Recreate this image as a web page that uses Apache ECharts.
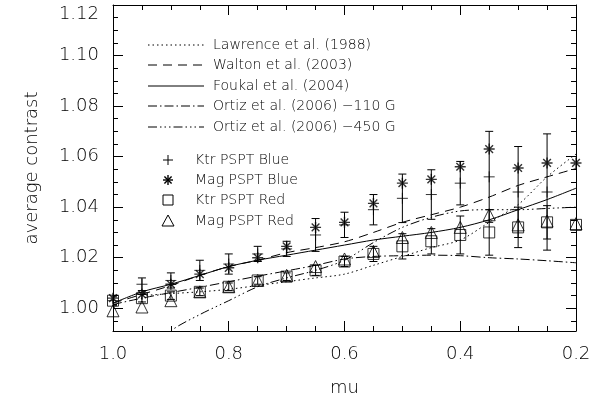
<!DOCTYPE html>
<html><head><meta charset="utf-8">
<script src="https://cdn.jsdelivr.net/npm/echarts@6/dist/echarts.min.js"></script>
<style>html,body{margin:0;padding:0;background:#fff}#c{width:616px;height:403px}</style>
</head><body><div id="c"></div>
<script>
// ---- data ----
const mu = [1.0,0.95,0.9,0.85,0.8,0.75,0.7,0.65,0.6,0.55,0.5,0.45,0.4,0.35,0.3,0.25,0.2];
const ktrBlue    = [1.003,1.0095,1.011,1.015,1.0175,1.0215,1.0235,1.029,1.033,1.039,1.0435,1.045,1.0495,1.052,1.046,1.046,null];
const ktrBlueErr = [0.002,0.0025,0.003,0.004,0.004,0.003,0.003,0.0065,0.005,0.006,0.0096,0.0098,0.0086,0.018,0.018,0.023,null];
const magBlue    = [1.004,1.0055,1.0095,1.0135,1.016,1.020,1.0245,1.032,1.034,1.0415,1.0495,1.051,1.056,1.063,1.0555,1.0575,1.0575];
const ktrRed     = [1.003,1.004,1.005,1.0065,1.0085,1.011,1.0125,1.015,1.0185,1.0215,1.0245,1.0265,1.029,1.030,1.032,1.034,1.033];
const ktrRedErr  = [0.0015,0.0015,0.0015,0.0015,0.0015,0.0015,0.0015,0.002,0.002,0.003,0.005,0.005,0.0075,0.009,0.008,0.0066,null];
const magRed     = [0.999,1.0005,1.003,1.0065,1.0085,1.011,1.013,1.0165,1.0195,1.0225,1.028,1.030,1.032,1.037,1.033,1.0345,1.0335];
const lawrence   = [null,1.005,1.0058,1.0065,1.0075,1.009,1.0105,1.012,1.0135,1.017,1.0205,1.024,1.027,1.034,1.041,1.052,1.061];
const walton     = [1.002,1.0055,1.009,1.013,1.0165,1.019,1.022,1.024,1.0263,1.030,1.034,1.037,1.040,1.044,1.0486,1.052,1.0553];
const foukal     = [1.002,1.0065,1.0095,1.013,1.0165,1.019,1.021,1.023,1.025,1.027,1.0285,1.030,1.032,1.035,1.039,1.043,1.0475];
const ortiz110   = [1.0015,1.004,1.0062,1.0083,1.0105,1.0127,1.0148,1.017,1.0195,1.0205,1.0208,1.021,1.0208,1.020,1.0195,1.0188,1.018];
const ortiz450   = [null,0.979,0.991,0.9975,1.003,1.0085,1.012,1.015,1.019,1.026,1.032,1.036,1.0385,1.039,1.039,1.0395,1.040];
const xTicks = [1.0,0.8,0.6,0.4,0.2];
const yTicks = [1.00,1.02,1.04,1.06,1.08,1.10,1.12];
const yMinorTicks = [0.995,1.005,1.01,1.015,1.025,1.03,1.035,1.045,1.05,1.055,1.065,1.07,1.075,1.085,1.09,1.095,1.105,1.11,1.115];
const lineNames = ['Lawrence et al. (1988)','Walton et al. (2003)','Foukal et al. (2004)','Ortiz et al. (2006) \u2212110 G','Ortiz et al. (2006) \u2212450 G'];
const symNames = ['Ktr PSPT Blue','Mag PSPT Blue','Ktr PSPT Red','Mag PSPT Red'];

// ---- styles ----
const FONT = 'DejaVu Sans';
const FW = 200;
const dashes = [[1.5,3],[9,6],null,[9,3,1.5,3],[9,3,1.5,3,1.5,3,1.5,3]];
const lineData = [lawrence, walton, foukal, ortiz110, ortiz450];
const SYM_PLUS = 'path://M0,5L10,5M5,0L5,10';
const SYM_AST = 'path://M5,0L5,10M0,5L10,5M1.5,1.5L8.5,8.5M8.5,1.5L1.5,8.5';
const syms = [SYM_PLUS, SYM_AST, 'rect', 'triangle'];
const symData = [ktrBlue, magBlue, ktrRed, magRed];
const symSize = [11, 11, 11, 12];

function pairs(arr){ return mu.map((m,i)=>[m, arr[i]]).filter(d=>d[1]!=null); }
function errSeries(vals, errs){
  return {
    type:'custom', xAxisIndex:0, yAxisIndex:0, clip:true, silent:true, z:3,
    data: mu.map((m,i)=>[m, vals[i], errs[i]]).filter(d=>d[1]!=null && d[2]!=null),
    renderItem:(params, api)=>{
      const x=api.value(0), y=api.value(1), e=api.value(2);
      const t=api.coord([x,y+e]), b=api.coord([x,y-e]);
      const st={stroke:'#000', lineWidth:1};
      return {type:'group', children:[
        {type:'line', shape:{x1:t[0],y1:t[1],x2:b[0],y2:b[1]}, style:st},
        {type:'line', shape:{x1:t[0]-4,y1:t[1],x2:t[0]+4,y2:t[1]}, style:st},
        {type:'line', shape:{x1:b[0]-4,y1:b[1],x2:b[0]+4,y2:b[1]}, style:st}
      ]};
    }
  };
}

const series = [];
lineData.forEach((arr,i)=>{
  series.push({type:'line', name:lineNames[i], data:pairs(arr), showSymbol:false, symbol:'none', smooth:0.3,
    clip:true, silent:true, z:2,
    lineStyle:{color:'#000', width:1, type: dashes[i] || 'solid'}});
});
series.push(errSeries(ktrBlue, ktrBlueErr));
series.push(errSeries(ktrRed, ktrRedErr));
symData.forEach((arr,i)=>{
  series.push({type:'scatter', name:symNames[i], data:pairs(arr), symbol:syms[i], symbolSize:symSize[i],
    clip:true, silent:true, z:4,
    itemStyle:{color:'none', borderColor:'#000', borderWidth: i===1 ? 1.4 : 1}});
});

// legend (drawn as graphics)
const graphic = [];
const legX1 = 148, legX2 = 204, legTX = 213;
const legRows = [45, 65, 86, 106, 127];
legRows.forEach((y,i)=>{
  graphic.push({type:'line', shape:{x1:legX1,y1:y,x2:legX2,y2:y}, style:{stroke:'#000', lineWidth:1, lineDash: dashes[i] || null}});
  graphic.push({type:'text', x:legTX, y:y, style:{text:lineNames[i], fontFamily:FONT, fontSize:14, fontWeight:FW, fill:'#000', verticalAlign:'middle'}});
});
const symRows = [160, 180, 200, 221];
const symX = 168, symTX = 195;
symRows.forEach((y,i)=>{
  const s = 5;
  let shape;
  if (i===0) shape = {type:'group', children:[
      {type:'line', shape:{x1:symX-s,y1:y,x2:symX+s,y2:y}, style:{stroke:'#000'}},
      {type:'line', shape:{x1:symX,y1:y-s,x2:symX,y2:y+s}, style:{stroke:'#000'}}]};
  else if (i===1) shape = {type:'group', children:[
      {type:'line', shape:{x1:symX-s,y1:y,x2:symX+s,y2:y}, style:{stroke:'#000',lineWidth:1.4}},
      {type:'line', shape:{x1:symX,y1:y-s,x2:symX,y2:y+s}, style:{stroke:'#000',lineWidth:1.4}},
      {type:'line', shape:{x1:symX-3.6,y1:y-3.6,x2:symX+3.6,y2:y+3.6}, style:{stroke:'#000',lineWidth:1.4}},
      {type:'line', shape:{x1:symX+3.6,y1:y-3.6,x2:symX-3.6,y2:y+3.6}, style:{stroke:'#000',lineWidth:1.4}}]};
  else if (i===2) shape = {type:'rect', shape:{x:symX-s,y:y-s,width:2*s,height:2*s}, style:{fill:'none',stroke:'#000'}};
  else shape = {type:'polygon', shape:{points:[[symX,y-6],[symX+6,y+5],[symX-6,y+5]]}, style:{fill:'none',stroke:'#000'}};
  graphic.push(shape);
  graphic.push({type:'text', x:symTX, y:y, style:{text:symNames[i], fontFamily:FONT, fontSize:14, fontWeight:FW, fill:'#000', verticalAlign:'middle'}});
});

const axisLbl = {fontFamily:FONT, fontSize:18, fontWeight:FW, color:'#000'};
const nameStyle = {fontFamily:FONT, fontSize:18, fontWeight:FW, color:'#000'};
const chart = echarts.init(document.getElementById('c'), null, {renderer:'canvas'});
chart.setOption({
  animation:false,
  backgroundColor:'#fff',
  grid:{left:113, right:40, top:5, bottom:72, containLabel:false, outerBoundsMode:'none'},
  xAxis:[
    {type:'value', position:'bottom', min:0.2, max:1.0, interval:0.2, inverse:true,
     name:'mu', nameLocation:'middle', nameGap:48, nameTextStyle:nameStyle,
     axisLine:{show:true, lineStyle:{color:'#000', width:1}},
     axisTick:{show:true, inside:true, length:10, lineStyle:{color:'#000'}},
     minorTick:{show:true, splitNumber:4, length:5, lineStyle:{color:'#000'}},
     axisLabel:{...axisLbl, margin:14, formatter:v=>xTicks.includes(+(+v).toFixed(1)) ? (+v).toFixed(1) : ''},
     splitLine:{show:false}},
    {type:'value', position:'top', min:0.2, max:1.0, interval:0.2, inverse:true,
     axisLine:{show:true, lineStyle:{color:'#000', width:1}},
     axisTick:{show:true, inside:true, length:10, lineStyle:{color:'#000'}},
     minorTick:{show:true, splitNumber:4, length:5, lineStyle:{color:'#000'}},
     axisLabel:{show:false}, splitLine:{show:false}}
  ],
  yAxis:[
    {type:'value', position:'left', min:0.991, max:1.12,
     name:'average contrast', nameLocation:'middle', nameGap:72, nameTextStyle:nameStyle,
     axisLine:{show:true, lineStyle:{color:'#000', width:1}},
     axisTick:{show:true, inside:true, length:10, customValues:yTicks, lineStyle:{color:'#000'}},
     axisLabel:{...axisLbl, margin:14, customValues:yTicks, verticalAlignMaxLabel:'top',
       formatter:v=>(+v).toFixed(2)},
     splitLine:{show:false}},
    {type:'value', position:'left', min:0.991, max:1.12,
     axisLine:{show:false},
     axisTick:{show:true, inside:true, length:5, customValues:yMinorTicks, lineStyle:{color:'#000'}},
     axisLabel:{show:false}, splitLine:{show:false}},
    {type:'value', position:'right', min:0.991, max:1.12,
     axisLine:{show:true, lineStyle:{color:'#000', width:1}},
     axisTick:{show:true, inside:true, length:10, customValues:yTicks, lineStyle:{color:'#000'}},
     axisLabel:{show:false}, splitLine:{show:false}},
    {type:'value', position:'right', min:0.991, max:1.12,
     axisLine:{show:false},
     axisTick:{show:true, inside:true, length:5, customValues:yMinorTicks, lineStyle:{color:'#000'}},
     axisLabel:{show:false}, splitLine:{show:false}}
  ],
  series: series,
  graphic: graphic
});
</script>
</body></html>
